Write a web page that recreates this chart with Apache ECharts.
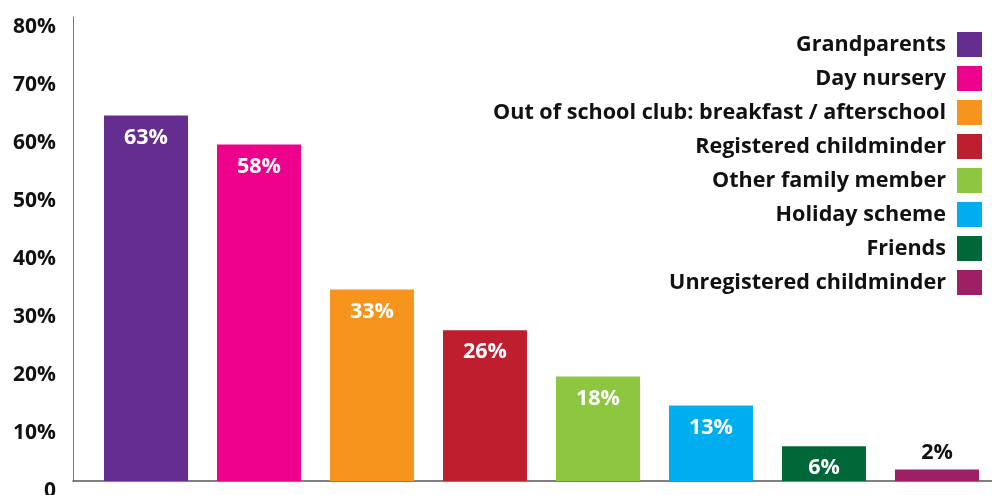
<!DOCTYPE html>
<html>
<head>
<meta charset="utf-8">
<script src="https://cdn.jsdelivr.net/npm/echarts@6/dist/echarts.min.js"></script>
<style>
  html, body { margin: 0; padding: 0; background: #fff; }
  #chart { width: 992px; height: 495px; }
</style>
</head>
<body>
<div id="chart"></div>
<script>
// Childcare types used, share of respondents (%)
const categories = [
  'Grandparents',
  'Day nursery',
  'Out of school club: breakfast / afterschool',
  'Registered childminder',
  'Other family member',
  'Holiday scheme',
  'Friends',
  'Unregistered childminder'
];
const values = [63, 58, 33, 26, 18, 13, 6, 2];
const colors = ['#652D90', '#EC008C', '#F7941D', '#BE1E2D', '#8DC63F', '#00AEEF', '#006838', '#9E1F63'];
const yTicks = [0, 10, 20, 30, 40, 50, 60, 70, 80];

const FONT = '"Open Sans"';

// One series per category so each gets its own legend entry
const series = categories.map((name, i) => {
  const small = values[i] < 5;
  return {
    name: name,
    type: 'bar',
    barWidth: 84,
    barGap: '-100%',
    itemStyle: { color: colors[i] },
    label: {
      show: true,
      position: small ? 'top' : 'insideTop',
      distance: small ? 6 : 11,
      color: small ? '#111' : '#fff',
      fontFamily: FONT,
      fontWeight: 'bold',
      fontSize: 21.5,
      formatter: p => p.value[1] + '%'
    },
    data: [[i, values[i]]]
  };
});

const chart = echarts.init(document.getElementById('chart'), null, { renderer: 'canvas' });
chart.setOption({
  animation: false,
  color: colors,
  grid: { left: 73, right: 0, top: 17, bottom: 14, containLabel: false, outerBoundsMode: 'none' },
  legend: {
    orient: 'vertical',
    right: 5,
    top: 27,
    align: 'right',
    icon: 'rect',
    itemWidth: 25,
    itemHeight: 25,
    itemGap: 9,
    textStyle: {
      fontFamily: FONT,
      fontWeight: 'bold',
      fontSize: 21.6,
      color: '#111',
      padding: [0, 6, 0, 0]
    },
    data: categories
  },
  xAxis: {
    type: 'value',
    min: -0.646,
    max: 7.487,
    axisLine: { show: true, onZero: false, lineStyle: { color: '#555', width: 1.5 } },
    axisTick: { show: false },
    axisLabel: { show: false },
    splitLine: { show: false }
  },
  yAxis: {
    type: 'value',
    min: yTicks[0],
    max: yTicks[yTicks.length - 1],
    interval: 10,
    axisLine: { show: true, onZero: false, lineStyle: { color: '#777', width: 1 } },
    axisTick: { show: false },
    splitLine: { show: false },
    axisLabel: {
      margin: 17,
      verticalAlign: 'top',
      color: '#111',
      fontFamily: FONT,
      fontWeight: 'bold',
      fontSize: 21,
      formatter: v => (v === 0 ? '0' : v + '%')
    }
  },
  series: series
});
</script>
</body>
</html>
